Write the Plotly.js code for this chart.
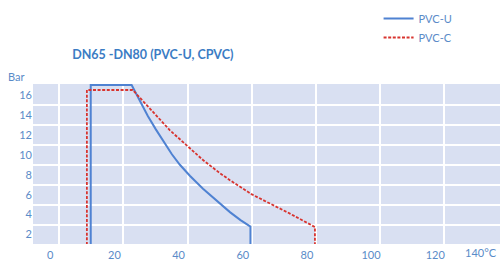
<!DOCTYPE html>
<html><head><meta charset="utf-8">
<script src="https://cdn.plot.ly/plotly-3.0.1.min.js"></script>
<style>html,body{margin:0;padding:0;background:#fff}#c{width:501px;height:260px}</style>
</head><body><div id="c"></div>
<script>
// Temperature (°C) vs pressure (bar)
const pvcuTemp = [9.8, 9.8, 22.55, 25.1, 27.6, 30.1, 32.6, 35.1, 37.6, 40.7, 44.8, 49.1, 53.2, 56.5, 59.4, 59.6, 59.6];
const pvcuBar  = [0.5, 17.0, 17.0, 15.4, 13.9, 12.55, 11.25, 10.05, 9.0, 7.9, 6.6, 5.35, 4.25, 3.45, 2.8, 2.8, 0.5];
const pvccTemp = [8.6, 8.6, 22.9, 29.3, 34.5, 39.7, 44.9, 50.1, 53.2, 59.9, 66.7, 71.9, 79.7, 79.7];
const pvccBar  = [0.5, 16.5, 16.5, 14.3, 12.45, 10.95, 9.45, 8.15, 7.45, 6.05, 4.95, 4.1, 2.75, 0.5];
const xTicks = [0, 20, 40, 60, 80, 100, 120];
const yTicks = [2, 4, 6, 8, 10, 12, 14, 16];
const yGrid  = [3, 5, 7, 9, 11, 13, 15];

const labelColor = '#5a8bc8';
const traces = [
  {x: pvcuTemp, y: pvcuBar, name: 'PVC-U', mode: 'lines', type: 'scatter',
   line: {color: '#4f82d2', width: 2}},
  {x: pvccTemp, y: pvccBar, name: 'PVC-C', mode: 'lines', type: 'scatter',
   line: {color: '#d8342f', width: 1.8, dash: '3px,1.6px'}}
];
const layout = {
  width: 501, height: 260,
  margin: {l: 33, r: 1, t: 84, b: 16},
  paper_bgcolor: '#ffffff', plot_bgcolor: '#d9e0f2',
  font: {family: 'Lato, "Open Sans", sans-serif', size: 11, color: labelColor},
  title: {text: '<b>DN65 -DN80 (PVC-U, CPVC)</b>', x: 0.305, xanchor: 'center',
          y: 0.79, yanchor: 'middle', xref: 'container', yref: 'container',
          font: {size: 12.5, color: '#3b7cc4', family: 'Lato, "Open Sans", sans-serif'}},
  xaxis: {range: [-8.2, 137.4], tickmode: 'array', tickvals: xTicks,
          showgrid: true, gridcolor: '#ffffff', gridwidth: 2, zeroline: false,
          ticks: '', ticklabelshift: -9, ticklabelstandoff: 3, showline: false, fixedrange: true,
          tickfont: {size: 11, color: labelColor}},
  yaxis: {range: [1.05, 17.1], tickmode: 'array', tickvals: yTicks,
          showgrid: false, zeroline: false, ticks: '', showline: false,
          minor: {tickmode: 'array', tickvals: yGrid, showgrid: true, gridcolor: '#ffffff', gridwidth: 2, ticks: ''},
          tickfont: {size: 11, color: labelColor}},
  showlegend: true,
  legend: {x: 0.74, xanchor: 'left', y: 1.5, yanchor: 'top', bgcolor: 'rgba(0,0,0,0)',
           font: {size: 11, color: labelColor}, tracegroupgap: 0},
  annotations: [
    {text: '140°C', xref: 'paper', yref: 'paper', x: 0.92, y: -0.055, xanchor: 'left', yanchor: 'middle',
     showarrow: false, font: {size: 11, color: labelColor}},
    {text: 'Bar', xref: 'paper', yref: 'paper', x: -0.058, y: 1.05, xanchor: 'left', yanchor: 'middle',
     showarrow: false, font: {size: 11, color: labelColor}}
  ]
};
Plotly.newPlot('c', traces, layout, {displayModeBar: false, staticPlot: true});
</script></body></html>
